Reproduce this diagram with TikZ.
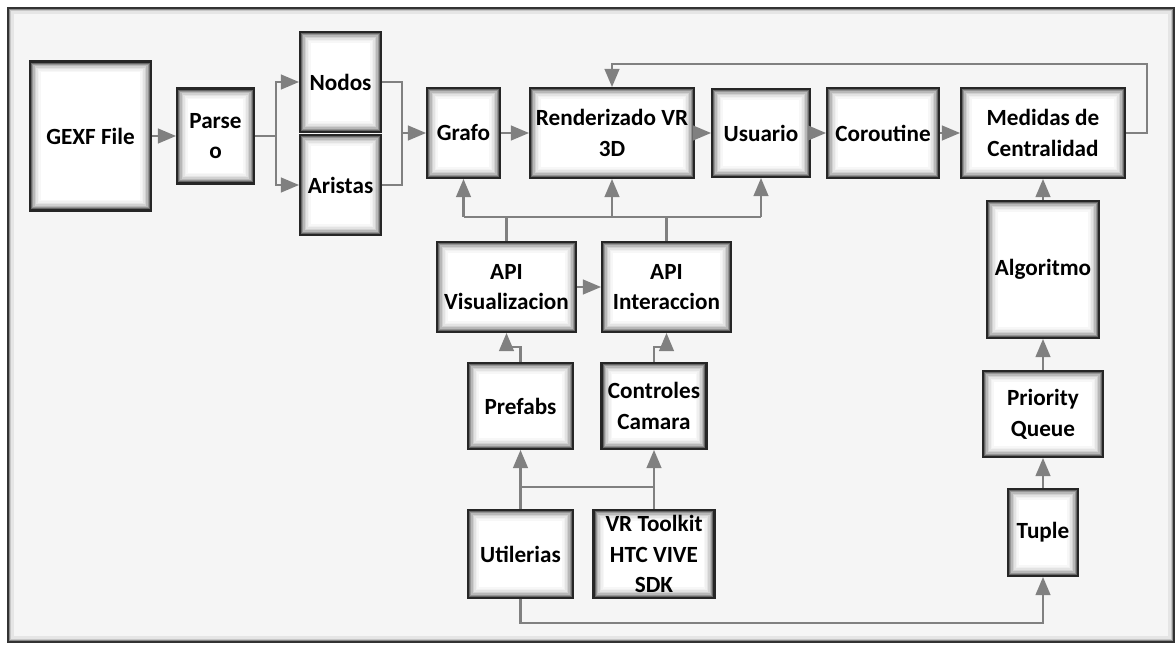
\documentclass[tikz,border=0pt]{standalone}
\usepackage{fontspec}
\setmainfont{Carlito}
\usetikzlibrary{arrows}

\tikzset{
  glow/.style={path picture={
      \foreach \d/\c in {0.8/60,1.6/42,2.4/28,3.2/18,4.0/11,4.8/6,5.6/3}
        \draw[black!\c, line width=0.9pt]
          ([xshift=\d pt, yshift=\d pt]path picture bounding box.south west) rectangle
          ([xshift=-\d pt, yshift=-\d pt]path picture bounding box.north east);}},
  blk/.style 2 args={draw=black!85, line width=1.2pt, fill=white, glow, inner sep=0pt, align=center,
    minimum width=#1*0.02cm, minimum height=#2*0.02cm, font=\bfseries\fontsize{13.2}{17.5}\selectfont},
  flw/.style={draw=gray, line width=1.4pt, -triangle 45},
  ln/.style={draw=gray, line width=1.4pt}
}

\begin{document}
\begin{tikzpicture}[x=0.02cm, y=-0.02cm]
    \useasboundingbox (0,0) rectangle (1176,645);
    % frame
    \fill[black!4] (8,8) rectangle (1174,642);
    \foreach \d/\c in {1.5/45,3/22,4.5/10}
        \draw[black!\c, line width=1.2pt] (8+\d,8+\d) rectangle (1174-\d,642-\d);
    \draw[black!80, line width=1.5pt] (8,8) rectangle (1174,642);

    % top row
    \node[blk={121}{149}] (gexf) at (90.5,136) {GEXF File};
    \node[blk={77}{95}] (parseo) at (215.5,136) {Parse\\o};
    \node[blk={81}{100}] (nodos) at (340.5,82) {Nodos};
    \node[blk={81}{100}] (aristas) at (340.5,185) {Aristas};
    \node[blk={73}{90}] (grafo) at (463.5,133) {Grafo};
    \node[blk={164}{90}] (render) at (612,133) {Renderizado VR\\3D};
    \node[blk={98}{88}] (usuario) at (761,133) {Usuario};
    \node[blk={112}{90}] (corout) at (883,133) {Coroutine};
    \node[blk={164}{90}] (medidas) at (1043,133) {Medidas de\\Centralidad};

    % right column
    \node[blk={112}{137}] (algo) at (1043,269.5) {Algoritmo};
    \node[blk={120}{86}] (pqueue) at (1043,414) {Priority\\Queue};
    \node[blk={70}{87}] (tuple) at (1043,532.5) {Tuple};

    % middle block
    \node[blk={139}{90}] (apivis) at (506.5,287) {API\\Visualizacion};
    \node[blk={129}{90}] (apiint) at (666.5,287) {API\\Interaccion};
    \node[blk={105}{86}] (prefabs) at (520.5,406) {Prefabs};
    \node[blk={105}{86}] (ctrl) at (654,406) {Controles\\Camara};
    \node[blk={105}{88}] (util) at (520.5,554) {Utilerias};
    \node[blk={121}{88}] (vrtk) at (654,554) {VR Toolkit\\HTC VIVE\\SDK};

    \coordinate (mrg) at (402,133);
    \coordinate (bus) at (0,217);
    \coordinate (hub) at (0,487);

    % connectors
    \draw[flw] (gexf) -- (parseo);
    \draw[flw] (parseo.east) -- ++(21,0) |- (nodos.west);
    \draw[flw] (parseo.east) -- ++(21,0) |- (aristas.west);
    \draw[ln] (nodos.east) -| (mrg) |- (aristas.east);
    \draw[flw] (mrg) -- (grafo.west);
    \foreach \a/\b in {grafo/render, render/usuario, usuario/corout, corout/medidas}
        \draw[flw] (\a) -- (\b);
    \draw[flw] (medidas.east) -- ++(21,0) -- ++(0,-69) -| (render.north);

    \draw[ln] (grafo.south |- bus) -- (usuario.south |- bus);
    \foreach \n in {grafo, render, usuario}
        \draw[flw] (\n.south |- bus) -- (\n.south);
    \draw[ln] (apivis.north) -- (apivis.north |- bus);
    \draw[ln] (apiint.north) -- (apiint.north |- bus);
    \draw[flw] (apivis) -- (apiint);

    \draw[flw] (prefabs.north) -- ++(0,-15) -| (apivis.south);
    \draw[flw] (ctrl.north) -- ++(0,-15) -| (apiint.south);
    \draw[flw] (util) -- (prefabs);
    \draw[flw] (vrtk) -- (ctrl);
    \draw[ln] (util.north |- hub) -- (vrtk.north |- hub);

    \draw[flw] (util.south) -- ++(0,24) -| (tuple.south);
    \foreach \a/\b in {tuple/pqueue, pqueue/algo, algo/medidas}
        \draw[flw] (\a) -- (\b);
\end{tikzpicture}
\end{document}
